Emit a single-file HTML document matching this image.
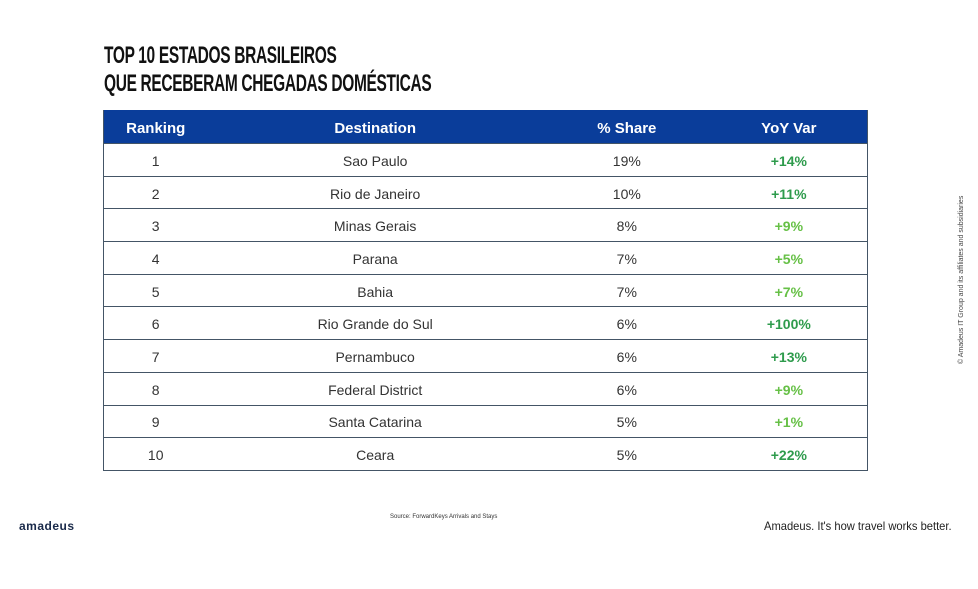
<!DOCTYPE html>
<html><head><meta charset="utf-8"><style>
body{margin:0;width:978px;height:589px;background:#fff;position:relative;overflow:hidden;font-family:"Liberation Sans",sans-serif;}
.t{position:absolute;left:104px;font-weight:bold;font-size:24px;line-height:28px;color:#111;transform-origin:0 0;transform:scaleX(0.645);white-space:nowrap;letter-spacing:-0.5px}
table{position:absolute;left:103px;top:110px;width:765px;border-collapse:collapse;font-size:14px;color:#333}
th{background:#0a3d9a;color:#fff;height:30px;font-size:15px;font-weight:bold;padding:3px 0 0 0}
td{height:29.7px;text-align:center;padding:2px 0 0 0;border-top:1px solid #445566}
tr:last-child td{border-bottom:1px solid #445566}
table{border-left:1px solid #445566;border-right:1px solid #445566}
.d{color:#2e9b4c;font-weight:bold}.l{color:#66c046;font-weight:bold}
</style></head><body>
<div class="t" style="top:42px">TOP 10 ESTADOS BRASILEIROS</div>
<div class="t" style="top:70px">QUE RECEBERAM CHEGADAS DOMÉSTICAS</div>
<table>
<colgroup><col style="width:104px"><col style="width:336px"><col style="width:168px"><col style="width:157px"></colgroup>
<tr><th>Ranking</th><th>Destination</th><th>% Share</th><th>YoY Var</th></tr>
<tr><td>1</td><td>Sao Paulo</td><td>19%</td><td class="d">+14%</td></tr>
<tr><td>2</td><td>Rio de Janeiro</td><td>10%</td><td class="d">+11%</td></tr>
<tr><td>3</td><td>Minas Gerais</td><td>8%</td><td class="l">+9%</td></tr>
<tr><td>4</td><td>Parana</td><td>7%</td><td class="l">+5%</td></tr>
<tr><td>5</td><td>Bahia</td><td>7%</td><td class="l">+7%</td></tr>
<tr><td>6</td><td>Rio Grande do Sul</td><td>6%</td><td class="d">+100%</td></tr>
<tr><td>7</td><td>Pernambuco</td><td>6%</td><td class="d">+13%</td></tr>
<tr><td>8</td><td>Federal District</td><td>6%</td><td class="l">+9%</td></tr>
<tr><td>9</td><td>Santa Catarina</td><td>5%</td><td class="l">+1%</td></tr>
<tr><td>10</td><td>Ceara</td><td>5%</td><td class="d">+22%</td></tr>
</table>
<div style="position:absolute;left:390px;top:514px;font-size:6px;color:#333">Source: ForwardKeys Arrivals and Stays</div>
<div style="position:absolute;left:19px;top:519px;font-size:12px;font-weight:bold;color:#1a2a4a;letter-spacing:0.5px">amadeus</div>
<div style="position:absolute;left:764px;top:519px;font-size:12px;color:#222;transform-origin:0 0;transform:scaleX(0.93);white-space:nowrap">Amadeus. It's how travel works better.</div>
<div style="position:absolute;left:958px;top:364px;font-size:7px;color:#444;transform-origin:0 0;transform:rotate(-90deg);white-space:nowrap">© Amadeus IT Group and its affiliates and subsidiaries</div>
</body></html>
